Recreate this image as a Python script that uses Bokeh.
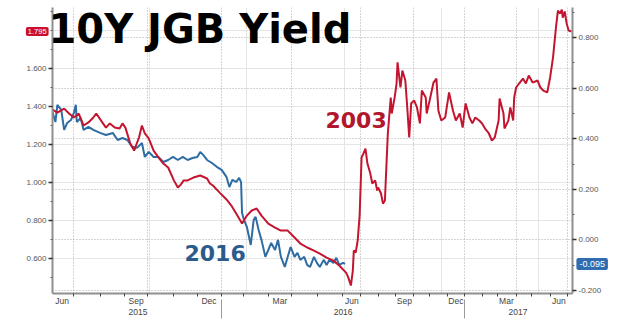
from bokeh.plotting import figure
from bokeh.models import Range1d, LinearAxis, FixedTicker, PrintfTickFormatter, Grid, Label
from bokeh.embed import file_html
from bokeh.resources import INLINE

# x = trading-session position along the (observation-based) time axis
red_pos = [0, 5, 12, 17, 22, 27, 32, 37, 42, 45, 50, 55, 59, 64, 69, 72, 75, 80, 84, 89,
           92, 95, 99, 104, 109, 114, 119, 125, 129, 132, 135, 139, 145, 152, 159, 162, 165, 172, 179, 184,
           189, 195, 200, 205, 210, 215, 222, 229, 235, 242, 249, 255, 262, 269, 275, 282, 289, 295, 302, 304,
           307, 309, 310, 312, 314, 316, 318, 320, 322, 324, 327, 329, 332, 334, 335, 338, 340, 342, 345, 348,
           349, 352, 354, 355, 358, 360, 363, 365, 367, 369, 372, 375, 378, 380, 384, 385, 388, 392, 395, 397,
           400, 404, 408, 412, 415, 419, 422, 425, 429, 432, 435, 439, 442, 445, 449, 452, 455, 459, 460, 464,
           465, 469, 471, 474, 475, 477, 480, 484, 487, 490, 494, 499, 502, 505, 509, 512, 515, 518, 520, 522,
           524, 525, 527, 529, 531, 534]
red_val = [1.384, 1.368, 1.389, 1.363, 1.342, 1.363, 1.300, 1.316, 1.342, 1.363, 1.326, 1.289, 1.311, 1.289, 1.284, 1.311, 1.289, 1.205, 1.168, 1.237,
           1.300, 1.258, 1.232, 1.168, 1.132, 1.100, 1.079, 1.010, 0.974, 0.989, 1.011, 1.011, 1.026, 1.037, 1.021, 0.995, 0.984, 0.947, 0.911, 0.879,
           0.837, 0.784, 0.826, 0.853, 0.863, 0.826, 0.784, 0.763, 0.747, 0.747, 0.711, 0.679, 0.658, 0.642, 0.626, 0.605, 0.589, 0.563, 0.526, 0.505,
           0.458, 0.537, 0.642, 0.632, 0.695, 0.826, 1.132, 1.153, 1.179, 1.100, 1.047, 0.995, 1.011, 0.958, 0.974, 0.942, 0.889, 0.905, 1.258, 1.447,
           1.363, 1.447, 1.521, 1.632, 1.500, 1.589, 1.537, 1.395, 1.237, 1.416, 1.432, 1.395, 1.311, 1.484, 1.447, 1.363, 1.432, 1.526, 1.547, 1.379,
           1.326, 1.342, 1.474, 1.379, 1.326, 1.363, 1.289, 1.416, 1.342, 1.311, 1.342, 1.326, 1.311, 1.284, 1.258, 1.221, 1.237, 1.326, 1.442, 1.363,
           1.284, 1.326, 1.395, 1.326, 1.447, 1.500, 1.521, 1.547, 1.521, 1.563, 1.526, 1.537, 1.500, 1.484, 1.474, 1.553, 1.660, 1.816, 1.905, 1.889,
           1.910, 1.868, 1.900, 1.837, 1.800, 1.795]

blue_pos = [0, 3, 5, 9, 12, 15, 19, 22, 24, 25, 29, 32, 37, 42, 49, 55, 62, 67, 72, 77,
            82, 87, 92, 95, 99, 104, 109, 114, 119, 124, 129, 134, 139, 144, 149, 152, 155, 159, 164, 169,
            174, 179, 182, 185, 189, 192, 194, 195, 197, 200, 204, 207, 209, 212, 215, 219, 222, 225, 229, 232,
            235, 239, 242, 245, 249, 252, 255, 259, 262, 265, 269, 272, 275, 279, 282, 285, 289, 292, 295, 299,
            301]
blue_val = [0.506, 0.466, 0.534, 0.514, 0.435, 0.462, 0.474, 0.502, 0.534, 0.466, 0.482, 0.435, 0.447, 0.435, 0.423, 0.415, 0.423, 0.395, 0.403, 0.395,
            0.368, 0.364, 0.383, 0.328, 0.348, 0.328, 0.328, 0.308, 0.316, 0.328, 0.316, 0.328, 0.316, 0.324, 0.328, 0.348, 0.336, 0.316, 0.304, 0.289,
            0.277, 0.249, 0.209, 0.237, 0.229, 0.245, 0.229, 0.107, 0.079, 0.051, -0.020, 0.079, 0.091, 0.040, 0.000, -0.067, -0.040, -0.012, -0.040, 0.000,
            -0.067, -0.107, -0.067, -0.028, -0.067, -0.051, -0.079, -0.067, -0.099, -0.107, -0.067, -0.091, -0.107, -0.079, -0.099, -0.079, -0.091, -0.071, -0.099, -0.091,
            -0.095]

month_bounds = [22, 49, 74, 98, 125, 149, 174, 197, 222, 246, 273, 298, 317, 335, 353, 371, 388, 406, 424, 442, 458, 477, 493, 512, 530]
month_label_pos = [10, 86, 161, 234, 308, 362, 415, 467, 521]
month_labels = ["Jun", "Sep", "Dec", "Mar", "Jun", "Sep", "Dec", "Mar", "Jun"]
quarter_pos = [22, 98, 174, 246, 317, 371, 424, 477, 530]
year_label_pos = [88, 299, 479]
year_labels = ["2015", "2016", "2017"]
year_bounds = [174, 424]

left_ticks = [0.6, 0.8, 1.0, 1.2, 1.4, 1.6]
left_minor = [0.5, 0.7, 0.9, 1.1, 1.3, 1.5, 1.7, 1.8, 1.9]
right_ticks = [-0.2, 0.0, 0.2, 0.4, 0.6, 0.8]
right_minor = [-0.1, 0.1, 0.3, 0.5, 0.7, 0.9]

RED = "#C3152F"
BLUE = "#2E6DA4"

p = figure(width=636, height=326, output_backend="svg", toolbar_location=None,
           x_range=Range1d(0, 535), y_range=Range1d(0.416, 1.921),
           x_axis_location=None, y_axis_location=None,
           min_border_left=48, min_border_right=53, min_border_top=7, min_border_bottom=33)
p.outline_line_color = None
p.background_fill_color = "white"
p.border_fill_color = "white"
p.extra_y_ranges = {"r": Range1d(-0.212, 0.919)}

AX = "#8f8f8f"
LBL = "#555555"

def style_y(ax):
    ax.axis_line_color = AX
    ax.axis_line_width = 2
    ax.major_tick_in = 0
    ax.major_tick_out = 4
    ax.major_tick_line_color = "#333333"
    ax.major_tick_line_width = 1.5
    ax.minor_tick_in = 0
    ax.minor_tick_out = 2
    ax.minor_tick_line_color = "#666666"
    ax.major_label_text_font = "Liberation Sans"
    ax.major_label_text_font_size = "8px"
    ax.major_label_text_color = LBL
    ax.major_label_standoff = 2

la = LinearAxis(ticker=FixedTicker(ticks=left_ticks, minor_ticks=left_minor),
                formatter=PrintfTickFormatter(format="%.3f"))
style_y(la)
p.add_layout(la, "left")

ra = LinearAxis(y_range_name="r", ticker=FixedTicker(ticks=right_ticks, minor_ticks=right_minor),
                formatter=PrintfTickFormatter(format="%.3f"))
style_y(ra)
p.add_layout(ra, "right")

ma = LinearAxis(ticker=FixedTicker(ticks=month_label_pos, minor_ticks=month_bounds),
                major_label_overrides={float(k): v for k, v in zip(month_label_pos, month_labels)})
ma.axis_line_color = AX
ma.axis_line_width = 2
ma.major_tick_line_color = None
ma.major_tick_in = 0
ma.major_tick_out = 0
ma.minor_tick_in = 0
ma.minor_tick_out = 3
ma.minor_tick_line_color = "#444444"
ma.major_label_text_font = "Liberation Sans"
ma.major_label_text_font_size = "8.5px"
ma.major_label_text_color = "#444444"
ma.major_label_standoff = -1
p.add_layout(ma, "below")

ya = LinearAxis(ticker=FixedTicker(ticks=year_label_pos, minor_ticks=year_bounds),
                major_label_overrides={float(k): v for k, v in zip(year_label_pos, year_labels)})
ya.axis_line_color = None
ya.major_tick_line_color = None
ya.major_tick_in = 0
ya.major_tick_out = 0
ya.minor_tick_in = 9
ya.minor_tick_out = 10
ya.minor_tick_line_color = "#9a9a9a"
ya.major_label_text_font = "Liberation Sans"
ya.major_label_text_font_size = "8.5px"
ya.major_label_text_color = "#444444"
ya.major_label_standoff = -10
p.add_layout(ya, "below")

hg = Grid(dimension=1, y_range_name="r", ticker=FixedTicker(ticks=right_ticks),
          grid_line_color="#a8a8a8", grid_line_dash="1 2", grid_line_width=1)
vg = Grid(dimension=0, ticker=FixedTicker(ticks=quarter_pos),
          grid_line_color="#a8a8a8", grid_line_dash="1 2", grid_line_width=1)
p.add_layout(hg)
p.add_layout(vg)

p.line(blue_pos, blue_val, y_range_name="r", line_color=BLUE, line_width=2)
p.line(red_pos, red_val, line_color=RED, line_width=2)

p.add_layout(Label(x=-4, y=265, x_units="screen", y_units="screen", text="10Y JGB Yield",
                   text_font="DejaVu Sans", text_font_style="bold", text_font_size="40px",
                   text_color="black", text_baseline="alphabetic"))
p.add_layout(Label(x=273, y=174, x_units="screen", y_units="screen", text="2003",
                   text_font="DejaVu Sans", text_font_style="bold", text_font_size="22px",
                   text_color="#B3172E", text_baseline="alphabetic"))
p.add_layout(Label(x=132, y=41, x_units="screen", y_units="screen", text="2016",
                   text_font="DejaVu Sans", text_font_style="bold", text_font_size="22px",
                   text_color="#2B5B8C", text_baseline="alphabetic"))

# last-value tags, placed in the side panels so they are not clipped to the frame
p.add_layout(Label(x=-4, y=red_val[-1], text=f"{red_val[-1]:.3f}",
                   text_align="right", text_baseline="middle", text_color="white",
                   text_font="Liberation Sans", text_font_size="7.5px",
                   background_fill_color="#C8102E", padding=2, border_radius=2), "left")
p.add_layout(Label(x=539, y=blue_val[-1], y_range_name="r",
                   text=f"{blue_val[-1]:.3f}",
                   text_align="left", text_baseline="middle", text_color="white",
                   text_font="Liberation Sans", text_font_size="9px",
                   background_fill_color="#2F6DB0", padding=3, border_radius=2), "right")

open("out.html", "w").write(file_html(p, INLINE))
